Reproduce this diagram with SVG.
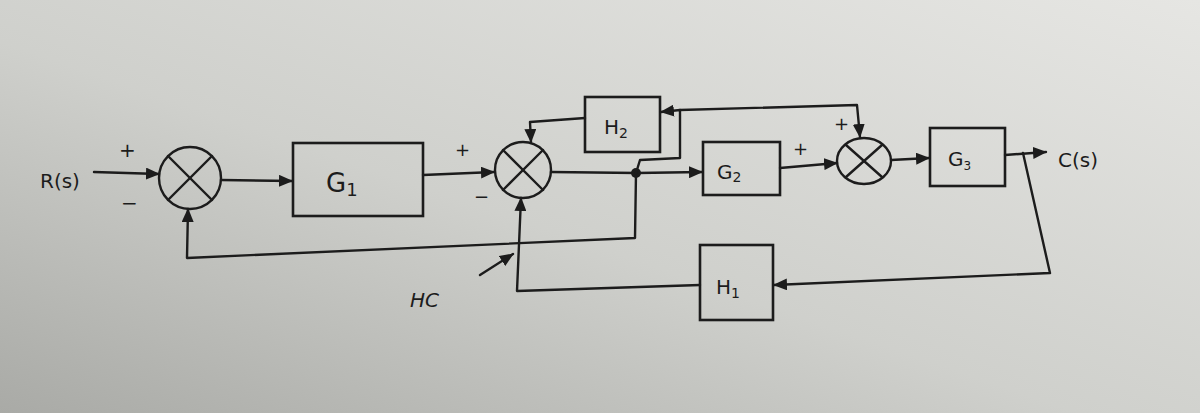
<svg xmlns="http://www.w3.org/2000/svg" width="1200" height="413" viewBox="0 0 1200 413">
  <defs>
    <linearGradient id="bg" x1="0" y1="1" x2="1" y2="0">
      <stop offset="0" stop-color="#a9aaa6"/>
      <stop offset="0.45" stop-color="#cfd0cc"/>
      <stop offset="1" stop-color="#e6e6e3"/>
    </linearGradient>
    <marker id="arr" markerUnits="userSpaceOnUse" markerWidth="14" markerHeight="12" refX="13" refY="6" orient="auto">
      <path d="M0,0 L14,6 L0,12 Z" fill="#1c1c1c"/>
    </marker>
    <style>
      .ln{fill:none;stroke:#1c1c1c;stroke-width:2.4;stroke-linecap:round;stroke-linejoin:round}
      .bx{fill:none;stroke:#1c1c1c;stroke-width:2.6}
      .t{font-family:"DejaVu Sans","Liberation Sans",sans-serif;fill:#1c1c1c}
    </style>
  </defs>
  <rect x="0" y="0" width="1200" height="413" fill="url(#bg)"/>

  <g id="labels">
    <text class="t" x="40" y="188" font-size="20">R(s)</text>
    <text class="t" x="119" y="157" font-size="20">+</text>
    <text class="t" x="121" y="210" font-size="20">−</text>
    <text class="t" x="455" y="156" font-size="18">+</text>
    <text class="t" x="474" y="203" font-size="18">−</text>
    <text class="t" x="793" y="155" font-size="18">+</text>
    <text class="t" x="834" y="130" font-size="18">+</text>
    <text class="t" x="1058" y="167" font-size="20">C(s)</text>
    <text class="t" x="410" y="307" font-size="20" font-style="italic">HC</text>
  </g>

  <g id="sum1">
    <circle class="ln" cx="190" cy="178" r="31"/>
    <line class="ln" x1="168" y1="156" x2="212" y2="200"/>
    <line class="ln" x1="168" y1="200" x2="212" y2="156"/>
  </g>
  <g id="G1">
    <rect class="bx" x="293" y="143" width="130" height="73"/>
    <text class="t" x="326" y="192" font-size="26">G<tspan font-size="18" dy="4">1</tspan></text>
  </g>
  <g id="sum2">
    <circle class="ln" cx="523" cy="170" r="28"/>
    <line class="ln" x1="503" y1="150" x2="543" y2="190"/>
    <line class="ln" x1="503" y1="190" x2="543" y2="150"/>
  </g>
  <g id="H2">
    <rect class="bx" x="585" y="97" width="75" height="55"/>
    <text class="t" x="604" y="134" font-size="20">H<tspan font-size="14" dy="4">2</tspan></text>
  </g>
  <g id="G2">
    <rect class="bx" x="703" y="142" width="77" height="53"/>
    <text class="t" x="717" y="179" font-size="20">G<tspan font-size="14" dy="3">2</tspan></text>
  </g>
  <g id="sum3">
    <ellipse class="ln" cx="864" cy="161" rx="27" ry="23"/>
    <line class="ln" x1="846" y1="145" x2="882" y2="177"/>
    <line class="ln" x1="846" y1="177" x2="882" y2="145"/>
  </g>
  <g id="G3">
    <rect class="bx" x="930" y="128" width="75" height="58"/>
    <text class="t" x="948" y="166" font-size="20">G<tspan font-size="12" dy="4">3</tspan></text>
  </g>
  <g id="H1">
    <rect class="bx" x="700" y="245" width="73" height="75"/>
    <text class="t" x="716" y="294" font-size="20">H<tspan font-size="14" dy="4">1</tspan></text>
  </g>

  <g id="connectors">
    <path class="ln" d="M94,172 L159,174" marker-end="url(#arr)"/>
    <path class="ln" d="M221,180 L292,181" marker-end="url(#arr)"/>
    <path class="ln" d="M423,175 L494,172" marker-end="url(#arr)"/>
    <path class="ln" d="M551,172 L637,173 L702,172" marker-end="url(#arr)"/>
    <circle cx="636" cy="173" r="5" fill="#1c1c1c"/>
    <path class="ln" d="M780,168 L837,163" marker-end="url(#arr)"/>
    <path class="ln" d="M891,160 L929,158" marker-end="url(#arr)"/>
    <path class="ln" d="M1005,155 L1046,152" marker-end="url(#arr)"/>
    <path class="ln" d="M1023,153 L1050,273 L774,285" marker-end="url(#arr)"/>
    <path class="ln" d="M700,285 L517,291 L521,198" marker-end="url(#arr)"/>
    <path class="ln" d="M636,173 L635,238 L187,258 L188,209" marker-end="url(#arr)"/>
    <path class="ln" d="M636,173 L640,160 L680,158 L680,110 L661,112" marker-end="url(#arr)"/>
    <path class="ln" d="M680,110 L857,105 L860,137" marker-end="url(#arr)"/>
    <path class="ln" d="M585,118 L530,122 L531,142" marker-end="url(#arr)"/>
    <path class="ln" d="M480,275 L513,254" marker-end="url(#arr)"/>
  </g>
</svg>
